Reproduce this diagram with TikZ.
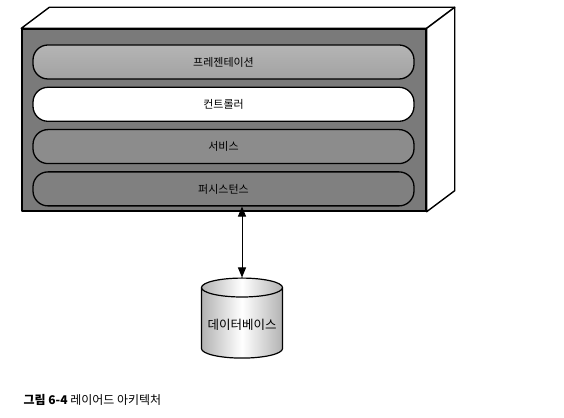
\documentclass[tikz,border=0pt]{standalone}
\usepackage{fontspec}
\setmainfont{Noto Sans CJK KR}
\usetikzlibrary{arrows.meta, positioning, calc, shapes.geometric}

\definecolor{framegray}{HTML}{7A7A7A}
\definecolor{presgray}{HTML}{A2A2A2}
\definecolor{servgray}{HTML}{8C8C8C}
\definecolor{persgray}{HTML}{808080}

\begin{document}
\begin{tikzpicture}[
    x=1pt, y=1pt,
    node distance=7pt,
    every node/.style={font=\fontsize{11}{13}\selectfont},
    layer/.style={draw, rectangle, rounded corners=15pt, minimum width=381pt, minimum height=34pt, line width=1.3pt},
    box/.style={draw, line width=1.4pt, line join=round},
    link/.style={{Triangle[length=10pt,width=8pt]}-{Triangle[length=10pt,width=8pt]}, line width=1pt}
    ]
    \useasboundingbox (0,0) rectangle (564,417);
    % front face of the box
    \node[box, fill=framegray, minimum width=404pt, minimum height=182pt, inner sep=0pt] (front) at (224,297) {};
    \draw[box, fill=white] (front.north west) -- ++(28,21) -- ($(front.north east)+(28,21)$) -- (front.north east) -- cycle;
    \draw[box, fill=white] (front.north east) -- ++(28,21) -- ($(front.south east)+(28,21)$) -- (front.south east) -- cycle;
    % layers
    \node[layer, top color=presgray!80!white, bottom color=presgray] (pres) at (223.5,355) {프레젠테이션};
    \node[layer, fill=white, below=of pres] (ctrl) {컨트롤러};
    \node[layer, fill=servgray, below=of ctrl] (serv) {서비스};
    \node[layer, fill=persgray, below=of serv] (pers) {퍼시스턴스};
    % database
    \node[cylinder, shape border rotate=90, aspect=0.25, draw, line width=1.2pt,
        minimum width=81pt, minimum height=80pt,
        left color=gray!60, right color=gray!60, middle color=white,
        font=\fontsize{12.5}{15}\selectfont] (db) at (242,92) {데이터베이스};
    \draw[link] (pers.south -| db.north) -- (db.north);
    % caption
    \node[anchor=west, font=\fontsize{12}{14}\selectfont] (caption) at (20,17) {\textbf{그림 6-4} 레이어드 아키텍처};
\end{tikzpicture}
\end{document}
